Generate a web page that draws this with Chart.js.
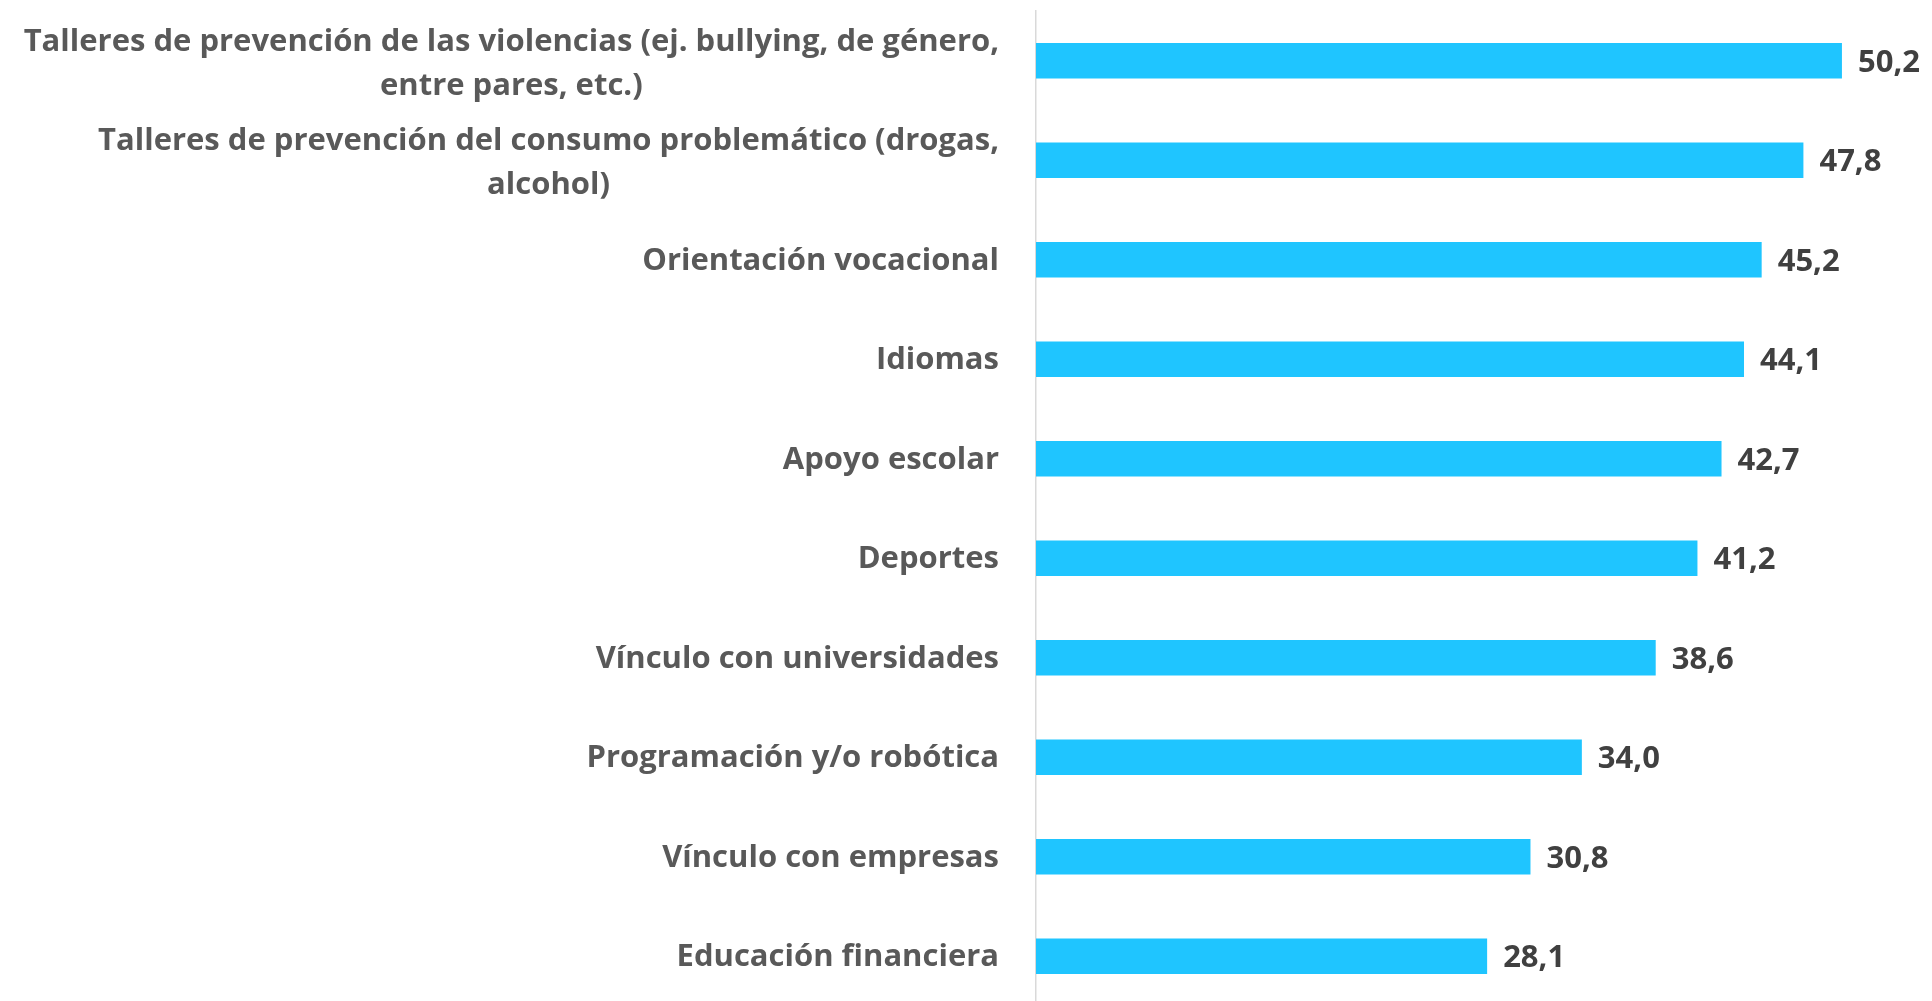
<!DOCTYPE html>
<html>
<head>
<meta charset="utf-8">
<script src="https://cdn.jsdelivr.net/npm/chart.js@4/dist/chart.umd.min.js"></script>
<style>
html,body{margin:0;padding:0;background:#fff;overflow:hidden;}
#wrap{position:relative;width:1932px;height:1006px;}
</style>
</head>
<body>
<div id="wrap"><canvas id="c"></canvas></div>
<script>
const categories = [
  ["Talleres de prevención de las violencias (ej. bullying, de género,", "entre pares, etc.)"],
  ["Talleres de prevención del consumo problemático (drogas,", "alcohol)"],
  ["Orientación vocacional"],
  ["Idiomas"],
  ["Apoyo escolar"],
  ["Deportes"],
  ["Vínculo con universidades"],
  ["Programación y/o robótica"],
  ["Vínculo con empresas"],
  ["Educación financiera"]
];
const values = [50.2, 47.8, 45.2, 44.1, 42.7, 41.2, 38.6, 34.0, 30.8, 28.1];
const xMin = 0;
const xMax = 55;

const LABEL_FONT = 'bold 31px "Open Sans"';
const VALUE_FONT = 'bold 31px "Open Sans"';

const labelPlugin = {
  id: 'labelPlugin',
  afterDraw(chart) {
    const ctx = chart.ctx;
    const yScale = chart.scales.y;
    const right = yScale.right - 37;
    ctx.save();
    ctx.font = LABEL_FONT;
    ctx.fillStyle = '#595959';
    ctx.textBaseline = 'middle';
    ctx.textAlign = 'center';
    const lh = 44;
    categories.forEach((lines, i) => {
      const yc = yScale.getPixelForTick(i) + (lines.length > 1 ? 3 : 1);
      const w = Math.max(...lines.map(l => ctx.measureText(l).width));
      const cx = right - w / 2;
      lines.forEach((l, k) => {
        const y = yc + (k - (lines.length - 1) / 2) * lh;
        ctx.fillText(l, cx, y);
      });
    });
    // values
    ctx.font = VALUE_FONT;
    ctx.fillStyle = '#404040';
    ctx.textAlign = 'left';
    const meta = chart.getDatasetMeta(0);
    meta.data.forEach((bar, i) => {
      ctx.fillText(values[i].toFixed(1).replace('.', ','), bar.x + 16, bar.y + 2);
    });
    ctx.restore();
  }
};

new Chart(document.getElementById('c'), {
  type: 'bar',
  data: {
    labels: categories.map(l => l.join(' ')),
    datasets: [{
      data: values,
      backgroundColor: '#1FC5FF',
      borderWidth: 0,
      barPercentage: 0.355,
      categoryPercentage: 1.0
    }]
  },
  options: {
    indexAxis: 'y',
    responsive: true,
    maintainAspectRatio: false,
    animation: false,
    layout: { padding: { top: 11, right: 13, bottom: 0, left: 0 } },
    plugins: { legend: { display: false }, tooltip: { enabled: false } },
    scales: {
      x: { display: false, min: xMin, max: xMax },
      y: {
        afterFit(scale) { scale.width = 1036; },
        ticks: { display: false },
        grid: { display: false, drawTicks: false },
        border: { display: true, color: '#d9d9d9', width: 1.5 }
      }
    }
  },
  plugins: [labelPlugin]
});
</script>
</body>
</html>
